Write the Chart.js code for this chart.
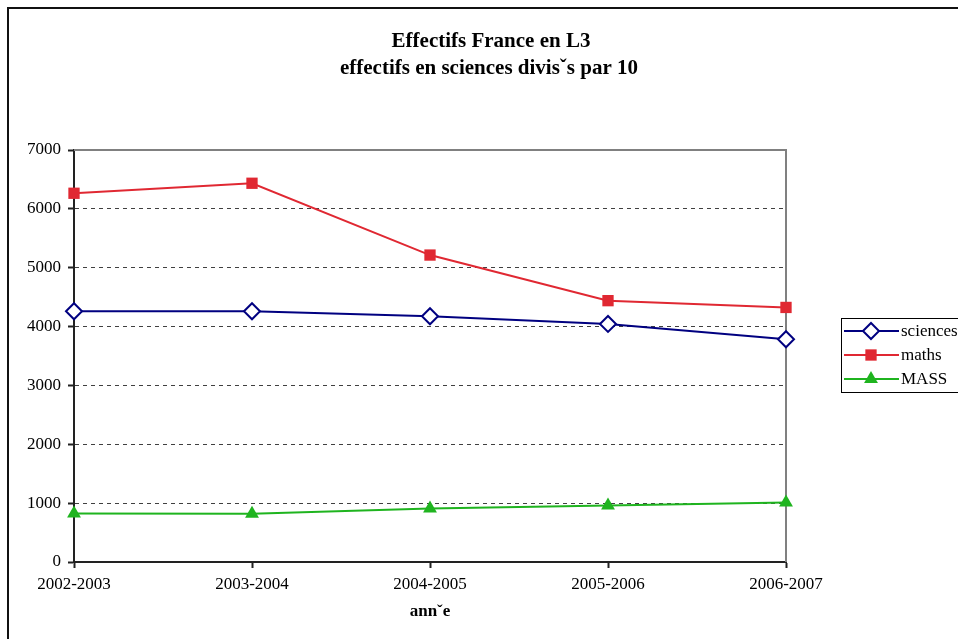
<!DOCTYPE html>
<html>
<head>
<meta charset="utf-8">
<script src="https://cdn.jsdelivr.net/npm/chart.js@4.4.0/dist/chart.umd.min.js"></script>
<style>
  html, body { margin: 0; padding: 0; background: #fff; }
</style>
</head>
<body>
<canvas id="graphique" width="958" height="639"></canvas>
<script>
// donnees
var annees = ["2002-2003", "2003-2004", "2004-2005", "2005-2006", "2006-2007"];
var sciences = [4260, 4260, 4175, 4045, 3785];
var maths = [6265, 6435, 5215, 4440, 4325];
var mass = [822, 818, 908, 959, 1010];
var titreLignes = ["Effectifs France en L3", "effectifs en sciences divisˇs par 10"];
var titreAxeX = "annˇe";

var police = "'Liberation Serif', 'Times New Roman', serif";

// cadre exterieur + bords haut/droite de la zone de trace
var pluginCadre = {
    id: "cadre",
    beforeDraw: function(chart) {
        var ctx = chart.ctx;
        ctx.save();
        ctx.fillStyle = "#fff";
        ctx.fillRect(0, 0, chart.width, chart.height);
        ctx.strokeStyle = "#111";
        ctx.lineWidth = 2;
        ctx.strokeRect(8, 8, chart.width + 20, chart.height + 20);
        ctx.restore();
    },
    beforeDatasetsDraw: function(chart) {
        var ctx = chart.ctx;
        var a = chart.chartArea;
        ctx.save();
        ctx.strokeStyle = "#808080";
        ctx.lineWidth = 2;
        ctx.beginPath();
        ctx.moveTo(a.left, a.top);
        ctx.lineTo(a.right, a.top);
        ctx.lineTo(a.right, a.bottom);
        ctx.stroke();
        ctx.restore();
    }
};

var pluginTitre = {
    id: "titre",
    afterDraw: function(chart) {
        var ctx = chart.ctx;
        ctx.save();
        ctx.fillStyle = "#000";
        ctx.font = "bold 21px " + police;
        ctx.textAlign = "center";
        ctx.textBaseline = "alphabetic";
        ctx.fillText(titreLignes[0], 491, 47);
        ctx.fillText(titreLignes[1], 489, 74);
        ctx.restore();
    }
};

var pluginLegende = {
    id: "legende",
    afterDraw: function(chart) {
        var ctx = chart.ctx;
        ctx.save();
        ctx.strokeStyle = "#000";
        ctx.lineWidth = 1;
        ctx.strokeRect(841.5, 318.5, 130, 74);
        var lignesY = [331, 355, 379];
        chart.data.datasets.forEach(function(ds, i) {
            var y = lignesY[i];
            ctx.strokeStyle = ds.borderColor;
            ctx.lineWidth = 2;
            ctx.beginPath();
            ctx.moveTo(844, y);
            ctx.lineTo(899, y);
            ctx.stroke();
            ctx.fillStyle = ds.pointBackgroundColor;
            ctx.strokeStyle = ds.pointBorderColor;
            ctx.lineWidth = ds.pointBorderWidth;
            Chart.helpers.drawPoint(ctx, {
                pointStyle: ds.pointStyle,
                radius: ds.pointRadius,
                rotation: 0,
                borderWidth: ds.pointBorderWidth
            }, 871, y);
            ctx.fillStyle = "#000";
            ctx.font = "17px " + police;
            ctx.textAlign = "left";
            ctx.textBaseline = "middle";
            ctx.fillText(ds.label, 901, y + 1);
        });
        ctx.restore();
    }
};

var ctx = document.getElementById("graphique").getContext("2d");
var chart = new Chart(ctx, {
    type: "line",
    data: {
        labels: annees,
        datasets: [{
            label: "sciences",
            data: sciences,
            borderColor: "#000080",
            borderWidth: 2,
            pointStyle: "rectRot",
            pointRadius: 8,
            pointBorderWidth: 2,
            pointBorderColor: "#000080",
            pointBackgroundColor: "#fff",
            tension: 0,
            clip: false
        }, {
            label: "maths",
            data: maths,
            borderColor: "#e02832",
            borderWidth: 2,
            pointStyle: "rect",
            pointRadius: 8,
            pointBorderWidth: 0,
            pointBorderColor: "#e02832",
            pointBackgroundColor: "#e02832",
            tension: 0,
            clip: false
        }, {
            label: "MASS",
            data: mass,
            borderColor: "#1fb41f",
            borderWidth: 2,
            pointStyle: "triangle",
            pointRadius: 8,
            pointBorderWidth: 0,
            pointBorderColor: "#1fb41f",
            pointBackgroundColor: "#1fb41f",
            tension: 0,
            clip: false
        }]
    },
    options: {
        responsive: false,
        animation: false,
        devicePixelRatio: 1,
        layout: { padding: { top: 150, right: 172, bottom: 0, left: 8 } },
        plugins: {
            legend: { display: false },
            title: { display: false },
            tooltip: { enabled: false }
        },
        scales: {
            x: {
                offset: false,
                grid: {
                    drawOnChartArea: false,
                    drawTicks: true,
                    tickLength: 6,
                    tickColor: "#222",
                    tickWidth: 2
                },
                border: { color: "#222", width: 2 },
                ticks: {
                    color: "#000",
                    font: { family: police, size: 17 },
                    padding: 6,
                    maxRotation: 0,
                    autoSkip: false
                },
                title: {
                    display: true,
                    text: titreAxeX,
                    color: "#000",
                    font: { family: police, size: 17, weight: "bold" },
                    padding: { top: 0, bottom: 17 }
                },
                afterFit: function(scale) { scale.height = 77; }
            },
            y: {
                min: 0,
                max: 7000,
                grid: {
                    color: function(c) {
                        return c.tick && c.tick.value === 7000 ? "rgba(0,0,0,0)" : "#404040";
                    },
                    lineWidth: 1,
                    tickLength: 6,
                    tickColor: "#222",
                    tickWidth: 2
                },
                border: { color: "#222", width: 2, dash: [4, 4] },
                ticks: {
                    stepSize: 1000,
                    color: "#000",
                    font: { family: police, size: 17 },
                    padding: 7,
                    callback: function(v) { return String(v); }
                },
                afterFit: function(scale) { scale.width = 66; }
            }
        }
    },
    plugins: [pluginCadre, pluginTitre, pluginLegende]
});
</script>
</body>
</html>
